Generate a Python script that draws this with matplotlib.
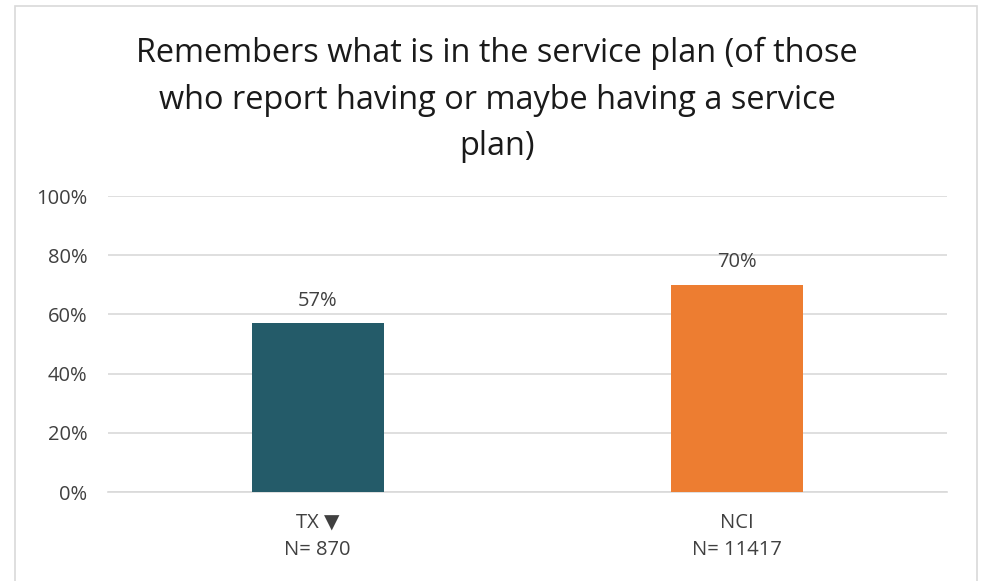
import matplotlib.pyplot as plt
from matplotlib.patches import Rectangle

categories = ['TX \u25BC\nN= 870', 'NCI\nN= 11417']
values = [57, 70]
value_labels = ['57%', '70%']
bar_colors = ['#245B69', '#ED7D31']
y_ticks = [0, 20, 40, 60, 80, 100]

plt.rcParams['font.family'] = ['Open Sans', 'DejaVu Sans']

fig = plt.figure(figsize=(9.82, 5.81), dpi=100)
ax = fig.add_axes([108 / 982, 1 - 492 / 581, 839 / 982, 296 / 581])

# outer chart frame
fig.patches.append(Rectangle((15 / 982, -0.05), 962 / 982, 1.05 - 6 / 581, transform=fig.transFigure,
                             fill=False, edgecolor='#d9d9d9', linewidth=1.2))

x = range(len(categories))
bars = ax.bar(x, values, width=0.315, color=bar_colors, zorder=3)

for bar, label in zip(bars, value_labels):
    ax.text(bar.get_x() + bar.get_width() / 2, bar.get_height() + 4.2, label,
            ha='center', va='bottom', fontsize=14.5, color='#404040')

ax.set_xlim(-0.5, len(categories) - 0.5)
ax.set_ylim(0, 100)
ax.set_yticks(y_ticks)
ax.set_yticklabels([f'{t}%' for t in y_ticks], fontsize=14.5, color='#404040')
ax.set_xticks(list(x))
ax.set_xticklabels(categories, fontsize=14.5, color='#404040', linespacing=1.45)
ax.tick_params(axis='both', length=0)
ax.tick_params(axis='y', pad=15)
ax.tick_params(axis='x', pad=15)
ax.grid(axis='y', color='#d9d9d9', linewidth=1.2, zorder=0)
for s in ['top', 'right', 'left']:
    ax.spines[s].set_visible(False)
ax.spines['bottom'].set_color('#d9d9d9')
ax.spines['bottom'].set_linewidth(1.2)

fig.text(497 / 982, 1 - 100 / 581,
         'Remembers what is in the service plan (of those\nwho report having or maybe having a service\nplan)',
         ha='center', va='center', fontsize=23.4, color='#1a1a1a', linespacing=1.55)

fig.savefig('out.png', dpi=100)
